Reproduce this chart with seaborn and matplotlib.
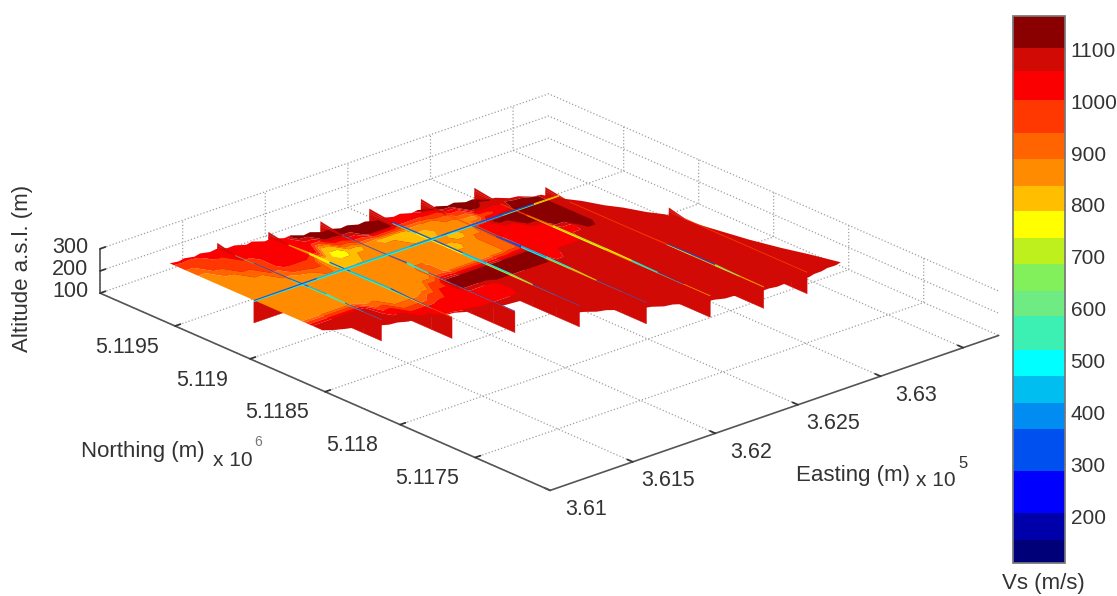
import matplotlib
matplotlib.use("Agg")
import matplotlib.pyplot as plt
import numpy as np
import seaborn as sns
from matplotlib.colors import BoundaryNorm, ListedColormap
from matplotlib.cm import ScalarMappable

# colour bands of the Vs scale
band_edges = [110, 154, 206, 287, 368, 419, 471, 521, 586, 635, 687, 737, 789, 837, 888, 938, 1002, 1058, 1102, 1164]
band_colors = ["#000078", "#0000aa", "#0000ff", "#0050f0", "#008cf0", "#00bef0", "#00ffff", "#3cf0b4", "#6eeb82",
               "#82f05a", "#bef01e", "#ffff00", "#ffbe00", "#ff8c00", "#ff6400", "#ff3700", "#fa0000", "#d20a05", "#8a0000"]

D, R, B, F, O, A, G, Y = 1130, 1080, 1030, 970, 910, 860, 815, 765

# horizontal slice, north row first
slice_vs = [
    [B]*7 + [D]*7 + [R]*12,
    [F, F] + [B]*5 + [D]*7 + [R]*12,
    [O, F, F] + [B]*4 + [D]*7 + [R]*12,
    [A, O, F, F, B, B, B, B, D, D, D, D, B, B, D, D, D] + [R]*9,
    [A, A, O, F, B, B, B, G, F, B, D, D, B, B, B, D, D, D] + [R]*8,
    [A, A, A, O, F, F, G, Y, G, A, G, G, A, A, O, F, D, R] + [R]*8,
    [A, A, A, A, A, O, G, G, A, A, A, G, G, A, A, A, F, B, D, D] + [R]*6,
    [A]*13 + [G, A, B, D, D, D, D] + [R]*6,
    [A]*12 + [G, A, O, B, B, D, D, D] + [R]*6,
    [A]*9 + [O, A, A, A, A, O, B, B, B, D, D] + [R]*6,
    [A]*9 + [O, A, A, A, A, O, B, B, B, B, D] + [R]*6,
    [R, R, R, R, O, A, A, A, F, D, D, D, D, D, D, B, B, B] + [R]*8,
    [R, R, R, R, B, O, O, F, B, D, D, D, D, D, D, B] + [R]*10,
    [R]*5 + [B]*6 + [R]*15,
    [R]*6 + [B]*5 + [R]*15,
    [R]*26, [R]*26, [R]*26, [R]*26, [R]*26, [R]*26, [R]*26, [R]*26, [R]*26,
]
slice_north = [5117840 + 90 * k for k in range(24)]

# outline of the slice (metres north of 5117000)
north_edge = [2879, 2869, 2879, 2863, 2874, 2857, 2864, 2839, 2841, 2812, 2822, 2787, 2792, 2757, 2762, 2724,
              2732, 2695, 2703, 2675, 2681, 2655, 2661, 2635, 2641, 2617, 2624, 2596, 2604, 2574, 2582, 2552,
              2560, 2530, 2534, 2489, 2480, 2435, 2426, 2381, 2371, 2272, 2200, 2094, 2020, 1914, 1841, 1604,
              1378, 1213, 1079, 920]
south_edge = [1860, 1828, 1805, 1788, 1754, 1739, 1713, 1707, 1683, 1679, 1655, 1651, 1628, 1623, 1596, 1591,
              1564, 1559, 1540, 1535, 1530, 1500, 1271, 1249, 1213, 1198, 1160, 1144, 1109, 1094, 1061, 1051,
              1020, 1008, 978, 969, 948, 945, 925, 923, 903, 905, 895, 899, 889, 893, 883, 895, 896, 907, 905, 915]

# north-south fences
fence_east = [361592, 361850, 362108, 362371, 362621, 362887, 363137, 363397]
fence_north = [5119871, 5119814, 5119751, 5119715, 5119646, 5119583, 5119385, 5118848]
fence_south = [5118776, 5118590, 5118455, 5118314, 5118143, 5118011, 5117930, 5117927]
fence_top_vs = [
    [1080, 1000, 350, 350, 350, 450, 520, 350, 350, 350],
    [1080, 800, 760, 350, 450, 450, 350, 300, 1000, 1000],
    [1080, 350, 350, 350, 500, 350, 350, 350, 350, 1000],
    [1080, 350, 300, 300, 450, 500, 600, 350, 350, 1000],
    [1080, 1000, 350, 300, 450, 500, 700, 350, 350, 1000],
    [1080, 950, 900, 700, 700, 760, 500, 350, 800, 1000],
    [1080, 1000, 1000, 1000, 1000, 350, 350, 600, 800, 1000],
    [1080, 950, 950, 950, 950, 950, 950, 950, 950, 950],
]
fence_low_vs = [
    [1080, 500, 900, 900, 500, 620, 620, 600, 900, 1000],
    [1080, 900, 760, 600, 500, 600, 650, 760, 900, 1000],
    [1080, 900, 900, 900, 500, 800, 900, 900, 1000, 1000],
    [1080, 600, 760, 760, 500, 700, 760, 900, 1000, 1000],
    [1080, 900, 900, 300, 500, 700, 800, 900, 1000, 1000],
    [1080, 950, 800, 760, 760, 800, 600, 800, 1000, 1000],
    [1080, 950, 950, 950, 950, 760, 800, 760, 850, 950],
    [1080, 1000, 1000, 1000, 1000, 1000, 1000, 1000, 1000, 1000],
]
# altitude of the fence crest, north end first
fence_ridge = [
    [212, 194, 194, 195, 196, 199, 200, 195, 193, 193],
    [212, 195, 201, 199, 199, 201, 201, 196, 193, 193],
    [212, 194, 194, 195, 199, 195, 194, 194, 193, 193],
    [212, 199, 201, 201, 201, 201, 201, 195, 193, 193],
    [212, 194, 195, 196, 201, 201, 199, 194, 193, 193],
    [212, 194, 196, 200, 201, 201, 199, 196, 193, 193],
    [210, 193, 193, 193, 194, 196, 199, 199, 195, 193],
    [210, 193, 193, 193, 193, 193, 193, 193, 193, 193],
]

# the one east-west fence
cross_north = 5119304
cross_east = [361299, 361491, 361679, 361867, 362055, 362243, 362431, 362619, 362806, 362994, 363145]
cross_top_vs = [350, 350, 420, 420, 420, 400, 350, 300, 350, 800, 850]
cross_low_vs = [500, 520, 520, 500, 500, 520, 500, 420, 600, 760, 850]
cross_ridge = [198, 199, 200, 200, 200, 200, 200, 200, 200, 198, 197]

sheet_z = 190
bottom_z = 95

east_ticks = [361000, 361500, 362000, 362500, 363000, 363500]
east_labels = ["3.61", "3.615", "3.62", "3.625", "3.63", ""]
north_ticks = [5117500, 5118000, 5118500, 5119000, 5119500]
north_labels = ["5.1175", "5.118", "5.1185", "5.119", "5.1195"]
alt_ticks = [100, 200, 300]
vs_ticks = [200, 300, 400, 500, 600, 700, 800, 900, 1000, 1100]

sns.set_theme(style="white", rc={"grid.color": "#a0a0a0", "grid.linestyle": ":", "grid.linewidth": 0.9})
plt.rcParams["font.family"] = ["Liberation Sans", "DejaVu Sans"]

W, H = 1117, 596
text_col = "#333333"
cmap = ListedColormap(sns.color_palette(band_colors))
norm = BoundaryNorm(band_edges, cmap.N)


def draw_fence(xs, ys, top, low, ridge):
    # part of a fence below the slice, and the thin strip above it
    xs, ys, ridge = np.array(xs), np.array(ys), np.array(ridge)
    n = len(xs)
    X = np.tile(xs, (2, 1))
    Y = np.tile(ys, (2, 1))
    Z = np.array([np.full(n, bottom_z), np.full(n, sheet_z)])
    ax.plot_surface(X, Y, Z, facecolors=cmap(norm(np.full((2, n), R))), rstride=1, cstride=1,
                    shade=False, linewidth=0.3, zorder=1)
    X = np.tile(xs, (3, 1))
    Y = np.tile(ys, (3, 1))
    Z = np.array([np.full(n, sheet_z), (sheet_z + ridge) / 2, ridge])
    vals = np.array([low, top, top])
    ax.plot_surface(X, Y, Z, facecolors=cmap(norm(vals)), rstride=1, cstride=1,
                    shade=False, linewidth=0.1, zorder=3)


fig = plt.figure(figsize=(W / 100, H / 100), dpi=100)
ax = fig.add_axes([97.5 / W, -148 / H, 880 / W, 880 / H], projection="3d", proj_type="ortho", computed_zorder=False)
ax.view_init(elev=22.9, azim=-131.6)
ax.set_box_aspect((561, 634, 45))

# fences, far ones first
for k in range(len(fence_east) - 1, -1, -1):
    ys = np.linspace(fence_north[k], fence_south[k], 10)
    draw_fence(np.full(10, fence_east[k]), ys, fence_top_vs[k], fence_low_vs[k], fence_ridge[k])
draw_fence(cross_east, np.full(len(cross_east), cross_north), cross_top_vs, cross_low_vs, cross_ridge)

# horizontal slice
vs = np.repeat(np.array(slice_vs[::-1], dtype=float), 2, axis=1)
east_grid = np.linspace(361312, 363590, 52)
ge, gn = np.meshgrid(east_grid, slice_north)
gn = np.clip(gn, 5117000 + np.array(south_edge), 5117000 + np.array(north_edge))
ax.contourf(ge, gn, vs, levels=band_edges, colors=band_colors, zdir="z", offset=sheet_z, zorder=2, antialiased=True)

ax.set_xlim(361000, 363715)
ax.set_ylim(5117000, 5120000)
ax.set_zlim(100, 300)
ax.set_xticks(east_ticks, east_labels)
ax.set_yticks(north_ticks, north_labels)
ax.set_zticks(alt_ticks, [str(t) for t in alt_ticks])
ax.tick_params(labelsize=15.5, colors=text_col)
ax.tick_params(axis="x", pad=18)
ax.tick_params(axis="y", pad=27)
ax.tick_params(axis="z", pad=3)
for lab in ax.get_xticklabels() + ax.get_yticklabels() + ax.get_zticklabels():
    lab.set_verticalalignment("center")
ax.grid(True)
for axis in (ax.xaxis, ax.yaxis, ax.zaxis):
    axis.set_pane_color((1, 1, 1, 0))
    axis.pane.set_edgecolor("none")
    axis.line.set_color("#555555")
    axis.line.set_linewidth(1.2)
    axis._axinfo["tick"].update(inward_factor=0.0, outward_factor=0.15)

# axis titles
fig.text(143 / W, 1 - 451 / H, "Northing (m)", fontsize=16, color=text_col, ha="center", va="center")
fig.text(233 / W, 1 - 460 / H, "x 10", fontsize=15, color=text_col, ha="center", va="center")
fig.text(258 / W, 1 - 442 / H, "6", fontsize=10, color="#777777", ha="center", va="center")
fig.text(853 / W, 1 - 475 / H, "Easting (m)", fontsize=16, color=text_col, ha="center", va="center")
fig.text(936 / W, 1 - 480 / H, "x 10", fontsize=15, color=text_col, ha="center", va="center")
fig.text(963 / W, 1 - 463 / H, "5", fontsize=12, color=text_col, ha="center", va="center")
fig.text(23 / W, 1 - 268 / H, "Altitude a.s.l. (m)", fontsize=16, color=text_col, rotation=90, ha="center", va="center")

# colour bar
cax = fig.add_axes([1013 / W, 1 - 563 / H, 52 / W, 547 / H])
cb = fig.colorbar(ScalarMappable(norm=norm, cmap=cmap), cax=cax, spacing="proportional", ticks=vs_ticks)
cb.ax.set_yticklabels([str(t) for t in vs_ticks])
cb.ax.tick_params(direction="in", left=True, right=True, length=3, width=0.8, labelsize=15, colors=text_col, pad=4)
cb.outline.set_edgecolor("#777777")
cb.ax.minorticks_off()
fig.text(1043 / W, 1 - 583 / H, "Vs (m/s)", fontsize=16, color=text_col, ha="center", va="center")

fig.savefig("out.png", dpi=100)
